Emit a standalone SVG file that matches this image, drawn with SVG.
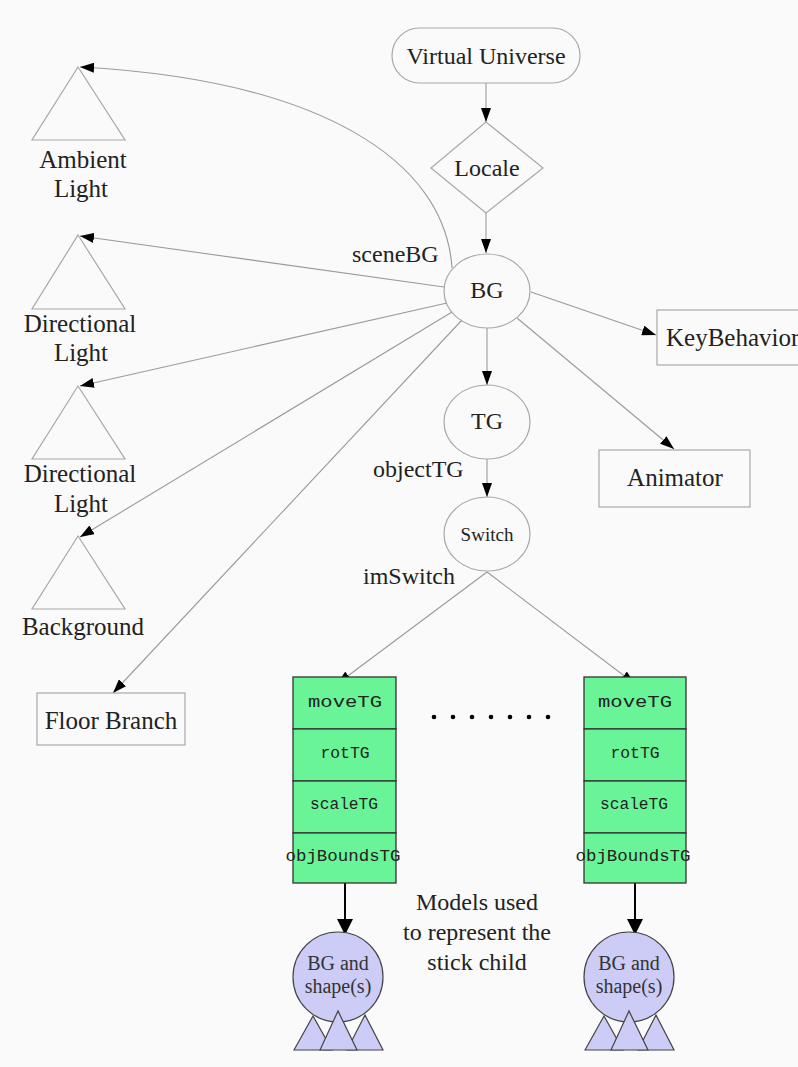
<svg xmlns="http://www.w3.org/2000/svg" width="798" height="1067" viewBox="0 0 798 1067">
<defs>
<marker id="ah" viewBox="0 0 14 10" refX="14" refY="5" markerWidth="14" markerHeight="10" markerUnits="userSpaceOnUse" orient="auto"><path d="M0,0 L14,5 L0,10 Z" fill="#000"/></marker>
<marker id="ahb" viewBox="0 0 16 16" refX="16" refY="8" markerWidth="16" markerHeight="16" markerUnits="userSpaceOnUse" orient="auto"><path d="M0,0 L16,8 L0,16 Z" fill="#000"/></marker>
<style>
.n{fill:none;stroke:#a8a8a8;stroke-width:1.2}
.t{font-family:"Liberation Serif","Times New Roman",serif;fill:#222;text-anchor:middle}
.l{font-family:"Liberation Serif","Times New Roman",serif;fill:#222}
.c{fill:none;stroke:#9a9a9a;stroke-width:1.1}
.cb{fill:none;stroke:#000;stroke-width:2}
.g{fill:#69f597;stroke:#333;stroke-width:1.3}
.m{font-family:"Liberation Mono","Courier New",monospace;fill:#222;text-anchor:middle;font-size:16px}
.p{fill:#ccccf7;stroke:#444;stroke-width:1.2}
.pt{font-family:"Liberation Serif","Times New Roman",serif;fill:#333;text-anchor:middle;font-size:20px}
</style>
</defs>
<rect width="798" height="1067" fill="#fafafa"/>
<g id="connectors">
<line class="c" x1="486" y1="83" x2="486" y2="122" marker-end="url(#ah)"/>
<line class="c" x1="486" y1="213" x2="486" y2="253" marker-end="url(#ah)"/>
<path class="c" d="M452,268 C445,160 320,80 80,67" marker-end="url(#ah)"/>
<line class="c" x1="444" y1="287" x2="80" y2="236" marker-end="url(#ah)"/>
<line class="c" x1="447" y1="303" x2="80" y2="386" marker-end="url(#ah)"/>
<line class="c" x1="452" y1="312" x2="80" y2="537" marker-end="url(#ah)"/>
<line class="c" x1="462" y1="320" x2="113" y2="693" marker-end="url(#ah)"/>
<line class="c" x1="531" y1="292" x2="656" y2="335" marker-end="url(#ah)"/>
<line class="c" x1="517" y1="318" x2="674" y2="449" marker-end="url(#ah)"/>
<line class="c" x1="487" y1="328" x2="487" y2="385" marker-end="url(#ah)"/>
<line class="c" x1="487" y1="459" x2="487" y2="497" marker-end="url(#ah)"/>
<line class="c" x1="487" y1="572" x2="337" y2="684" marker-end="url(#ah)"/>
<line class="c" x1="487" y1="572" x2="635" y2="684" marker-end="url(#ah)"/>
<line class="cb" x1="345" y1="883" x2="345" y2="935" marker-end="url(#ahb)"/>
<line class="cb" x1="635" y1="883" x2="635" y2="935" marker-end="url(#ahb)"/>
</g>
<g id="virtual-universe">
<rect class="n" x="392" y="28" width="188" height="55" rx="27.5"/>
<text class="t" x="486" y="64" font-size="24">Virtual Universe</text>
</g>
<g id="locale">
<polygon class="n" points="486,122 543,168 486,213 431,168"/>
<text class="t" x="487" y="176" font-size="24">Locale</text>
</g>
<g id="bg">
<ellipse class="n" cx="487" cy="291" rx="43" ry="37"/>
<text class="t" x="487" y="298" font-size="24">BG</text>
</g>
<text class="l" x="352" y="262" font-size="24">sceneBG</text>
<g id="ambient-light">
<polygon class="n" points="78,67 125,140 32,140"/>
<text class="t" x="83" y="168" font-size="25">Ambient</text>
<text class="t" x="81" y="197" font-size="25">Light</text>
</g>
<g id="directional-light-1">
<polygon class="n" points="78,235 125,309 32,309"/>
<text class="t" x="80" y="332" font-size="25">Directional</text>
<text class="t" x="81" y="361" font-size="25">Light</text>
</g>
<g id="directional-light-2">
<polygon class="n" points="78,386 125,459 32,459"/>
<text class="t" x="80" y="482" font-size="25">Directional</text>
<text class="t" x="81" y="512" font-size="25">Light</text>
</g>
<g id="background">
<polygon class="n" points="78,536 125,609 32,609"/>
<text class="t" x="83" y="635" font-size="25">Background</text>
</g>
<g id="floor-branch">
<rect class="n" x="37" y="693" width="148" height="52"/>
<text class="t" x="111" y="729" font-size="25">Floor Branch</text>
</g>
<g id="key-behavior">
<rect class="n" x="657" y="310" width="160" height="55"/>
<text class="l" x="666" y="346" font-size="25">KeyBehavior</text>
</g>
<g id="animator">
<rect class="n" x="599" y="450" width="151" height="57"/>
<text class="t" x="675" y="486" font-size="25">Animator</text>
</g>
<g id="tg">
<ellipse class="n" cx="487" cy="422" rx="43" ry="37"/>
<text class="t" x="487" y="429" font-size="24">TG</text>
</g>
<text class="l" x="373" y="477" font-size="24">objectTG</text>
<g id="switch">
<ellipse class="n" cx="487" cy="534" rx="43" ry="37"/>
<text class="t" x="487" y="541" font-size="19">Switch</text>
</g>
<text class="l" x="363" y="584" font-size="24">imSwitch</text>
<g id="stack-left">
<rect class="g" x="293" y="677" width="103" height="52"/>
<rect class="g" x="293" y="729" width="103" height="52"/>
<rect class="g" x="293" y="781" width="103" height="52"/>
<rect class="g" x="293" y="833" width="103" height="50"/>
<text class="m" x="345" y="707" textLength="74" lengthAdjust="spacingAndGlyphs">moveTG</text>
<text class="m" x="345" y="758" textLength="49" lengthAdjust="spacingAndGlyphs">rotTG</text>
<text class="m" x="344" y="809" textLength="68" lengthAdjust="spacingAndGlyphs">scaleTG</text>
<text class="m" x="343" y="861" textLength="115" lengthAdjust="spacingAndGlyphs">objBoundsTG</text>
</g>
<g id="stack-right">
<rect class="g" x="584" y="677" width="102" height="52"/>
<rect class="g" x="584" y="729" width="102" height="52"/>
<rect class="g" x="584" y="781" width="102" height="52"/>
<rect class="g" x="584" y="833" width="102" height="50"/>
<text class="m" x="635" y="707" textLength="74" lengthAdjust="spacingAndGlyphs">moveTG</text>
<text class="m" x="635" y="758" textLength="49" lengthAdjust="spacingAndGlyphs">rotTG</text>
<text class="m" x="634" y="809" textLength="68" lengthAdjust="spacingAndGlyphs">scaleTG</text>
<text class="m" x="633" y="861" textLength="115" lengthAdjust="spacingAndGlyphs">objBoundsTG</text>
</g>
<g id="dots" fill="#000">
<circle cx="434" cy="717" r="2.3"/><circle cx="453" cy="717" r="2.3"/><circle cx="472" cy="717" r="2.3"/><circle cx="491" cy="717" r="2.3"/><circle cx="510" cy="717" r="2.3"/><circle cx="529" cy="717" r="2.3"/><circle cx="548" cy="717" r="2.3"/>
</g>
<g id="models-label">
<text class="t" x="477" y="910" font-size="24">Models used</text>
<text class="t" x="477" y="940" font-size="24">to represent the</text>
<text class="t" x="477" y="970" font-size="24">stick child</text>
</g>
<g id="model-left">
<circle class="p" cx="338" cy="977" r="45"/>
<text class="pt" x="338" y="970">BG and</text>
<text class="pt" x="338" y="993">shape(s)</text>
<polygon class="p" points="294,1050 313,1016 332,1050"/>
<polygon class="p" points="347,1050 365,1015 383,1050"/>
<polygon class="p" points="320,1050 338,1011 357,1050"/>
</g>
<g id="model-right">
<circle class="p" cx="629" cy="977" r="45"/>
<text class="pt" x="629" y="970">BG and</text>
<text class="pt" x="629" y="993">shape(s)</text>
<polygon class="p" points="585,1050 604,1016 623,1050"/>
<polygon class="p" points="638,1050 656,1015 674,1050"/>
<polygon class="p" points="611,1050 629,1011 648,1050"/>
</g>
</svg>
